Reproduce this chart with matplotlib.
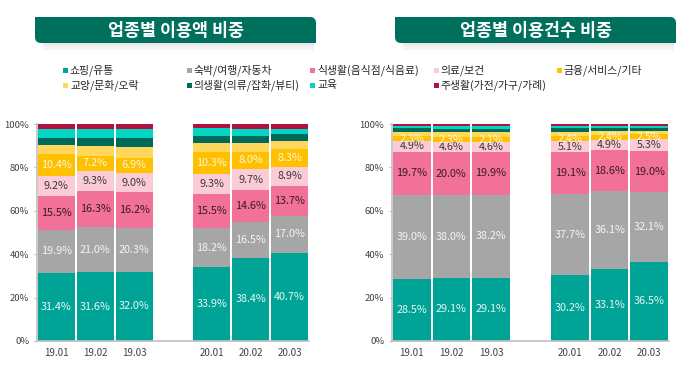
import matplotlib
matplotlib.use("Agg")
import matplotlib.pyplot as plt
from matplotlib.patches import FancyBboxPatch, Rectangle

plt.rcParams["font.family"] = ["Noto Sans CJK KR", "DejaVu Sans"]

# -------------------------
# Data
# -------------------------

months = ["19.01", "19.02", "19.03", "20.01", "20.02", "20.03"]
x_pos = [0, 1, 2, 4, 5, 6]

categories = [
    "쇼핑/유통", "숙박/여행/자동차", "식생활(음식점/식음료)", "의료/보건",
    "금융/서비스/기타", "교양/문화/오락", "의생활(의류/잡화/뷰티)", "교육",
    "주생활(가전/가구/가례)",
]
colors = [
    "#00a496", "#a6a6a6", "#f27198", "#fccbd8",
    "#ffc000", "#ffd75a", "#00695a", "#00d6c2", "#b3113f",
]
label_colors = ["#e6f6f4", "#f4f4f4", "#3a1a26", "#3a3a3a", "#fff6da"]

# 이용액 비중 (%), one list per category
amount_shop = [31.4, 31.6, 32.0, 33.9, 38.4, 40.7]
amount_travel = [19.9, 21.0, 20.3, 18.2, 16.5, 17.0]
amount_food = [15.5, 16.3, 16.2, 15.5, 14.6, 13.7]
amount_medical = [9.2, 9.3, 9.0, 9.3, 9.7, 8.9]
amount_finance = [10.4, 7.2, 6.9, 10.3, 8.0, 8.3]
amount_culture = [4.0, 4.5, 4.8, 3.9, 4.0, 3.7]
amount_clothing = [3.3, 3.5, 4.2, 3.4, 3.1, 3.0]
amount_edu = [3.8, 4.3, 4.1, 3.5, 3.3, 2.3]
amount_home = [2.5, 2.3, 2.5, 2.0, 2.4, 2.4]

# 이용건수 비중 (%)
count_shop = [28.5, 29.1, 29.1, 30.2, 33.1, 36.5]
count_travel = [39.0, 38.0, 38.2, 37.7, 36.1, 32.1]
count_food = [19.7, 20.0, 19.9, 19.1, 18.6, 19.0]
count_medical = [4.9, 4.6, 4.6, 5.1, 4.9, 5.3]
count_finance = [2.3, 2.3, 2.1, 2.4, 2.4, 2.5]
count_culture = [2.0, 2.2, 2.3, 2.0, 1.8, 1.5]
count_clothing = [1.6, 1.7, 1.7, 1.6, 1.4, 1.3]
count_edu = [1.2, 1.3, 1.3, 1.2, 1.0, 0.9]
count_home = [0.8, 0.8, 0.8, 0.7, 0.7, 0.9]

amount_series = [amount_shop, amount_travel, amount_food, amount_medical,
                 amount_finance, amount_culture, amount_clothing, amount_edu,
                 amount_home]
count_series = [count_shop, count_travel, count_food, count_medical,
                count_finance, count_culture, count_clothing, count_edu,
                count_home]

# -------------------------
# Figure
# -------------------------

W, H = 698, 373
fig = plt.figure(figsize=(W / 100, H / 100), dpi=100)

# overlay in pixel coordinates for title boxes and legend
over = fig.add_axes([0, 0, 1, 1])
over.set_xlim(0, W)
over.set_ylim(H, 0)
over.axis("off")


def title_box(x0, x1, text):
    y0, y1 = 17, 43
    # soft shadow
    for k, a in enumerate([0.16, 0.10, 0.06, 0.03]):
        over.add_patch(Rectangle((x0 + 8, y1 + k * 1.8), x1 - x0 - 10, 2.2,
                                 color="#707070", alpha=a, lw=0))
    r = 6
    over.add_patch(FancyBboxPatch((x0 + r, y0 + r), x1 - x0 - 2 * r, y1 - y0 - 2 * r,
                                  boxstyle=f"round,pad={r}", fc="#00705e", ec="none"))
    # square off top-left and bottom-right corners
    over.add_patch(Rectangle((x0, y0), 2 * r, 2 * r, fc="#00705e", ec="none"))
    over.add_patch(Rectangle((x1 - 2 * r, y1 - 2 * r), 2 * r, 2 * r, fc="#00705e", ec="none"))
    over.text((x0 + x1) / 2, (y0 + y1) / 2 + 0.5, text, color="white", fontsize=12.5,
              fontweight="bold", ha="center", va="center")


title_box(35, 316, "업종별 이용액 비중")
title_box(395, 676, "업종별 이용건수 비중")

# legend, laid out row by row
for i, (name, c) in enumerate(zip(categories, colors)):
    col, row = i % 5, i // 5
    lx = 63 + col * 123.5
    ly = 70 + row * 15
    over.add_patch(Rectangle((lx, ly - 2.5), 5, 5, fc=c, ec="none"))
    over.text(lx + 7, ly, name, fontsize=7.8, color="#262626", va="center", ha="left")


def stacked(ax, series):
    bottom = [0.0] * len(months)
    for k, vals in enumerate(series):
        ax.bar(x_pos, vals, bottom=bottom, width=0.95, color=colors[k], lw=0)
        if k < 5:
            for xp, b, v in zip(x_pos, bottom, vals):
                ax.text(xp, b + v / 2, f"{v:.1f}%", ha="center", va="center",
                        fontsize=7.8, color=label_colors[k])
        bottom = [b + v for b, v in zip(bottom, vals)]
    ax.set_xlim(-0.5, 6.5)
    ax.set_ylim(0, 100)
    ax.set_yticks([0, 20, 40, 60, 80, 100])
    ax.set_yticklabels([f"{t}%" for t in [0, 20, 40, 60, 80, 100]])
    ax.set_xticks(x_pos)
    ax.set_xticklabels(months)
    for s in ["top", "right"]:
        ax.spines[s].set_visible(False)
    for s in ["left", "bottom"]:
        ax.spines[s].set_color("#bfbfbf")
        ax.spines[s].set_linewidth(1.2)
    ax.tick_params(axis="y", length=2.5, color="#bfbfbf", labelsize=6.8,
                   labelcolor="#404040", pad=3)
    ax.tick_params(axis="x", length=0, labelsize=7, labelcolor="#404040", pad=5)


bottom_f = 1 - 341 / H
height_f = (341 - 124) / H
ax1 = fig.add_axes([37 / W, bottom_f, (309 - 37) / W, height_f])
ax2 = fig.add_axes([392 / W, bottom_f, (669 - 392) / W, height_f])

stacked(ax1, amount_series)
stacked(ax2, count_series)

fig.savefig("out.png", dpi=100)
